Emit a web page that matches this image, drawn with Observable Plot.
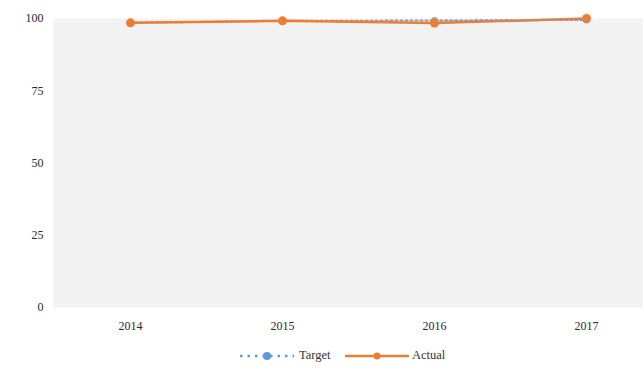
<!DOCTYPE html>
<html>
<head>
<meta charset="utf-8">
<script src="https://cdn.jsdelivr.net/npm/d3@7"></script>
<script src="https://cdn.jsdelivr.net/npm/@observablehq/plot@0.6"></script>
<style>
  html, body { margin: 0; padding: 0; background: #fff; }
  #chart { width: 643px; }
  .legend { position: relative; height: 33px; font-family: "Liberation Serif", serif; font-size: 12.5px; color: #333; }
  .legend .item { position: absolute; top: 8px; display: flex; align-items: center; }
  .legend svg { display: block; }
</style>
</head>
<body>
<div id="chart"></div>
<script>
const years = ["2014", "2015", "2016", "2017"];
const target = [98.5, 99.2, 99.3, 99.5];
const actual = [98.5, 99.2, 98.4, 100];
const yTicks = [0, 25, 50, 75, 100];

const rows = [];
years.forEach((y, i) => {
  rows.push({year: y, series: "Target", value: target[i]});
  rows.push({year: y, series: "Actual", value: actual[i]});
});
const tRows = rows.filter(d => d.series === "Target");
const aRows = rows.filter(d => d.series === "Actual");

const orange = "#ED7D31";
const blue = "#5B9BD5";

const plot = Plot.plot({
  width: 643,
  height: 340,
  marginTop: 18,
  marginBottom: 33,
  marginLeft: 53,
  marginRight: 0,
  style: {fontFamily: "Liberation Serif, serif", fontSize: "12px", color: "#2a2a2a", background: "#fff"},
  x: {domain: years, type: "point", range: [54, 662], padding: 0.5, label: null},
  y: {domain: [0, 100], ticks: yTicks, label: null},
  marks: [
    Plot.frame({fill: "#F2F2F2", stroke: null}),
    Plot.axisY({ticks: yTicks, tickSize: 0, tickPadding: 10, fontSize: 12, label: null}),
    Plot.axisX({tickSize: 0, tickPadding: 14, fontSize: 12, label: null}),
    Plot.line(tRows, {x: "year", y: "value", stroke: "#8a9db5", strokeWidth: 2, strokeDasharray: "2,3"}),
    Plot.dot(tRows.filter(d => d.year >= "2016"), {x: "year", y: "value", r: 3.5, fill: "#a08a80", fillOpacity: 0.8}),
    Plot.line(aRows, {x: "year", y: "value", stroke: orange, strokeWidth: 2.5}),
    Plot.dot(aRows, {x: "year", y: "value", r: 4.5, fill: orange}),
    Plot.line(tRows.filter(d => d.year >= "2016"), {x: "year", y: "value", stroke: "#8a9db5", strokeWidth: 1.5, strokeDasharray: "2,3", strokeOpacity: 0.8})
  ]
});
document.getElementById("chart").appendChild(plot);

const leg = document.createElement("div");
leg.className = "legend";
leg.innerHTML = `
  <div class="item" style="left:238px">
    <svg width="58" height="12"><line x1="2" y1="6" x2="56" y2="6" stroke="${blue}" stroke-width="2.5" stroke-dasharray="2.5,5"/><circle cx="29" cy="6" r="4" fill="${blue}"/></svg>
    <span style="margin-left:3px">Target</span>
  </div>
  <div class="item" style="left:344px">
    <svg width="66" height="12"><line x1="1" y1="6" x2="65" y2="6" stroke="${orange}" stroke-width="2.5"/><circle cx="33" cy="6" r="3.5" fill="${orange}"/></svg>
    <span style="margin-left:2px">Actual</span>
  </div>`;
document.body.appendChild(leg);
</script>
</body>
</html>
